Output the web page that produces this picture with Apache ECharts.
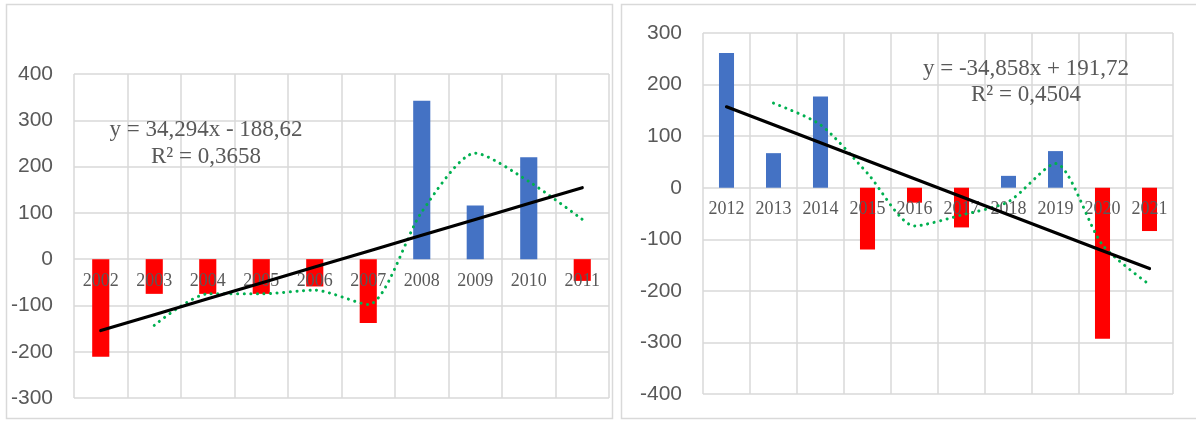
<!DOCTYPE html>
<html>
<head>
<meta charset="utf-8">
<script src="https://cdn.jsdelivr.net/npm/echarts@6/dist/echarts.min.js"></script>
<style>
  html, body { margin: 0; padding: 0; background: #ffffff; }
  #chart { width: 1196px; height: 421px; }
</style>
</head>
<body>
<div id="chart"></div>
<script>
// Annual deviations, 2002–2011
const yearsA = ['2002', '2003', '2004', '2005', '2006', '2007', '2008', '2009', '2010', '2011'];
const valuesA = [-211, -75, -75, -75, -59, -138, 342, 116, 220, -47];
// two-period moving average
const movingA = [null, -143, -75, -75, -67, -98, 102, 229, 168, 86];
// linear trend: slope, intercept, R²
const trendA = [34.294, -188.62];
const r2A = 0.3658;
const axisA = [-300, 400, 100];

// Annual deviations, 2012–2021
const yearsB = ['2012', '2013', '2014', '2015', '2016', '2017', '2018', '2019', '2020', '2021'];
const valuesB = [261, 67, 177, -120, -29, -77, 23, 71, -293, -84];
const movingB = [null, 164, 122, 28, -74, -53, -27, 47, -111, -188];
const trendB = [-34.858, 191.72];
const r2B = 0.4504;
const axisB = [-400, 300, 100];

const POS = '#4472C4';
const NEG = '#FF0000';
const GRID = '#d9d9d9';
const TEXT = '#595959';

const grids = [
  { left: 74, top: 74, width: 535, height: 324 },
  { left: 703, top: 33, width: 470, height: 361 }
];

function dec(v, d) { return v.toFixed(d).replace('.', ','); }
function equation(t) {
  const sign = t[1] < 0 ? ' - ' : ' + ';
  return 'y = ' + dec(t[0], 3) + 'x' + sign + dec(Math.abs(t[1]), 2);
}
function trendPoints(t, n) {
  // the trend line evaluated at x = 1..n
  const out = [];
  for (let i = 1; i <= n; i++) out.push(+(t[0] * i + t[1]).toFixed(2));
  return out;
}

// category labels sit just under the zero line of the value axis
function xAxis(idx, cats, ax) {
  const g = grids[idx];
  const zeroFromBottom = g.height * (0 - ax[0]) / (ax[1] - ax[0]);
  return {
    type: 'category', gridIndex: idx, data: cats, z: 3,
    position: 'bottom', offset: -zeroFromBottom,
    axisLine: { show: false, onZero: false },
    axisTick: { show: false },
    splitLine: { show: true, interval: 0, lineStyle: { color: GRID, width: 1.5 } },
    axisLabel: { interval: 0, margin: 13, color: TEXT, fontFamily: 'Liberation Serif', fontSize: 18 }
  };
}
function yAxis(idx, ax) {
  return {
    type: 'value', gridIndex: idx, min: ax[0], max: ax[1], interval: ax[2],
    axisLine: { show: false }, axisTick: { show: false },
    splitLine: { show: true, lineStyle: { color: GRID, width: 1.5 } },
    axisLabel: { margin: 21, color: TEXT, fontFamily: 'Liberation Sans', fontSize: 21 }
  };
}
function bars(idx, vals) {
  return {
    type: 'bar', xAxisIndex: idx, yAxisIndex: idx, data: vals, barWidth: '32%', z: 2,
    itemStyle: { color: p => (p.value < 0 ? NEG : POS) }
  };
}
function moving(idx, vals) {
  return {
    type: 'line', xAxisIndex: idx, yAxisIndex: idx, data: vals, smooth: 0.25, z: 6,
    showSymbol: false, connectNulls: false,
    lineStyle: { color: '#00B050', width: 3, type: [0.1, 6.5], cap: 'round' }
  };
}
function trend(idx, t, n) {
  return {
    type: 'line', xAxisIndex: idx, yAxisIndex: idx, data: trendPoints(t, n), z: 7,
    showSymbol: false,
    lineStyle: { color: '#000000', width: 3.2, cap: 'round' }
  };
}
function label(text, x, y) {
  return {
    type: 'text', z: 20, x: x, y: y,
    style: { text: text, fill: TEXT, font: '23px "Liberation Serif"', textAlign: 'center', textVerticalAlign: 'middle' }
  };
}

const chart = echarts.init(document.getElementById('chart'));
chart.setOption({
  animation: false,
  backgroundColor: '#ffffff',
  grid: grids,
  xAxis: [xAxis(0, yearsA, axisA), xAxis(1, yearsB, axisB)],
  yAxis: [yAxis(0, axisA), yAxis(1, axisB)],
  series: [
    bars(0, valuesA), moving(0, movingA), trend(0, trendA, yearsA.length),
    bars(1, valuesB), moving(1, movingB), trend(1, trendB, yearsB.length)
  ],
  graphic: [
    { type: 'rect', z: 0, shape: { x: 6.5, y: 4.5, width: 606, height: 414 }, style: { fill: null, stroke: GRID, lineWidth: 1.5 } },
    { type: 'rect', z: 0, shape: { x: 621.5, y: 4.5, width: 600, height: 414 }, style: { fill: null, stroke: GRID, lineWidth: 1.5 } },
    label(equation(trendA), 206, 130),
    label('R² = ' + dec(r2A, 4), 206, 157),
    label(equation(trendB), 1026, 69),
    label('R² = ' + dec(r2B, 4), 1026, 95)
  ]
});
</script>
</body>
</html>
